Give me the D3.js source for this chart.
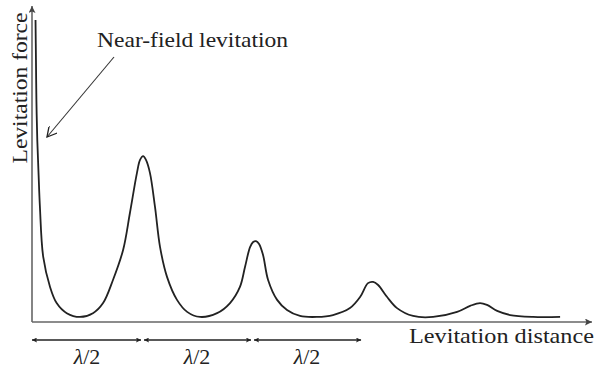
<!DOCTYPE html>
<html>
<head>
<meta charset="utf-8">
<script src="https://cdn.jsdelivr.net/npm/d3@7"></script>
<style>
  html, body { margin: 0; padding: 0; background: #fff; }
  svg { display: block; }
  text { font-family: "Liberation Serif", "Times New Roman", serif; fill: #222; }
</style>
</head>
<body>
<svg id="chart" width="597" height="372"></svg>
<script>
// Levitation distance in units of wavelength (lambda)
const distance = [0.016, 0.018, 0.020, 0.024, 0.030, 0.036, 0.051, 0.082, 0.112, 0.158, 0.218,
  0.277, 0.323, 0.368, 0.414, 0.445, 0.477, 0.491, 0.505, 0.518, 0.536, 0.559, 0.582, 0.614, 0.659,
  0.705, 0.764, 0.841, 0.900, 0.945, 0.968, 0.991, 1.005, 1.018, 1.032, 1.050, 1.073, 1.114, 1.159,
  1.218, 1.295, 1.368, 1.445, 1.491, 1.527, 1.550, 1.573, 1.614, 1.659, 1.732, 1.823, 1.932, 1.991,
  2.036, 2.068, 2.114, 2.173, 2.277, 2.400];
// Levitation force (arbitrary units)
const force = [95.6, 82.9, 70.3, 57.6, 46.5, 36.4, 20.6, 11.1, 6.0, 2.8, 1.6,
  2.8, 6.0, 13.3, 22.8, 34.5, 47.2, 51.3, 52.5, 51.3, 47.2, 36.4, 23.7, 14.2, 7.0,
  3.2, 1.6, 2.8, 6.0, 11.1, 17.4, 23.7, 25.3, 25.6, 24.7, 21.2, 13.3, 7.0, 3.8,
  1.9, 1.6, 2.2, 4.4, 7.9, 12.3, 12.7, 11.7, 7.9, 4.4, 1.9, 1.6, 3.2, 5.1,
  6.0, 5.4, 3.5, 2.2, 1.6, 1.6];
// half-wavelength markers (start, end in lambda units)
const halfStarts = [0, 0.5, 1.0];
const halfEnds = [0.5, 1.0, 1.5];
const halfLabel = "λ/2";
const xLabel = "Levitation distance";
const yLabel = "Levitation force";
const noteLabel = "Near-field levitation";

const svg = d3.select("#chart");
const x = d3.scaleLinear().domain([0, 2.545]).range([32, 592]);
const y = d3.scaleLinear().domain([0, 100]).range([322, 6]);

const defs = svg.append("defs");
defs.append("marker").attr("id", "axArrow").attr("viewBox", "0 0 10 10")
  .attr("refX", 10).attr("refY", 5).attr("markerWidth", 9).attr("markerHeight", 7)
  .attr("markerUnits", "userSpaceOnUse").attr("orient", "auto")
  .append("path").attr("d", "M0,0L10,5L0,10L2,5Z").attr("fill", "#444");
defs.append("marker").attr("id", "dimArrow").attr("viewBox", "0 0 10 10")
  .attr("refX", 10).attr("refY", 5).attr("markerWidth", 7).attr("markerHeight", 5)
  .attr("markerUnits", "userSpaceOnUse").attr("orient", "auto-start-reverse")
  .append("path").attr("d", "M0,0L10,5L0,10L2,5Z").attr("fill", "#222");
defs.append("marker").attr("id", "openArrow").attr("viewBox", "0 0 10 10")
  .attr("refX", 9).attr("refY", 5).attr("markerWidth", 11).attr("markerHeight", 11)
  .attr("markerUnits", "userSpaceOnUse").attr("orient", "auto")
  .append("path").attr("d", "M0,0L9,5L0,10").attr("fill", "none").attr("stroke", "#222").attr("stroke-width", 1.2);

// axes
svg.append("line")
  .attr("x1", x(0)).attr("y1", y(0)).attr("x2", x.range()[1]).attr("y2", y(0))
  .attr("stroke", "#666").attr("stroke-width", 1.6).attr("marker-end", "url(#axArrow)");
svg.append("line")
  .attr("x1", x(0)).attr("y1", y(0)).attr("x2", x(0)).attr("y2", y.range()[1])
  .attr("stroke", "#666").attr("stroke-width", 1.6).attr("marker-end", "url(#axArrow)");

// curve
const pts = distance.map((d, i) => [d, force[i]]);
svg.append("path").datum(pts)
  .attr("fill", "none").attr("stroke", "#222").attr("stroke-width", 1.8)
  .attr("stroke-linejoin", "round")
  .attr("d", d3.line().x(d => x(d[0])).y(d => y(d[1])).curve(d3.curveCatmullRom.alpha(0.5)));

// half-wavelength dimension arrows
const dimY = 340;
halfStarts.forEach((s, i) => {
  const x1 = x(s) + (i === 0 ? 0 : 2), x2 = x(halfEnds[i]) - 1;
  svg.append("line").attr("x1", x1).attr("y1", dimY).attr("x2", x2).attr("y2", dimY)
    .attr("stroke", "#222").attr("stroke-width", 1.3)
    .attr("marker-start", "url(#dimArrow)").attr("marker-end", "url(#dimArrow)");
  const t = svg.append("text").attr("x", (x(s) + x(halfEnds[i])) / 2).attr("y", 364)
    .attr("text-anchor", "middle").attr("font-size", 22);
  t.append("tspan").attr("font-style", "italic").text(halfLabel.slice(0, 1));
  t.append("tspan").text(halfLabel.slice(1));
});

// axis labels
svg.append("text").attr("x", 409).attr("y", 343).attr("font-size", 21)
  .attr("textLength", 185).attr("lengthAdjust", "spacingAndGlyphs").text(xLabel);
svg.append("text").attr("transform", "translate(27,88) rotate(-90)")
  .attr("text-anchor", "middle").attr("font-size", 21)
  .attr("textLength", 151).attr("lengthAdjust", "spacingAndGlyphs").text(yLabel);

// annotation
svg.append("text").attr("x", 97).attr("y", 47).attr("font-size", 21)
  .attr("textLength", 191).attr("lengthAdjust", "spacingAndGlyphs").text(noteLabel);
svg.append("line").attr("x1", 114).attr("y1", 57).attr("x2", 47).attr("y2", 137)
  .attr("stroke", "#333").attr("stroke-width", 1.1).attr("marker-end", "url(#openArrow)");
</script>
</body>
</html>
